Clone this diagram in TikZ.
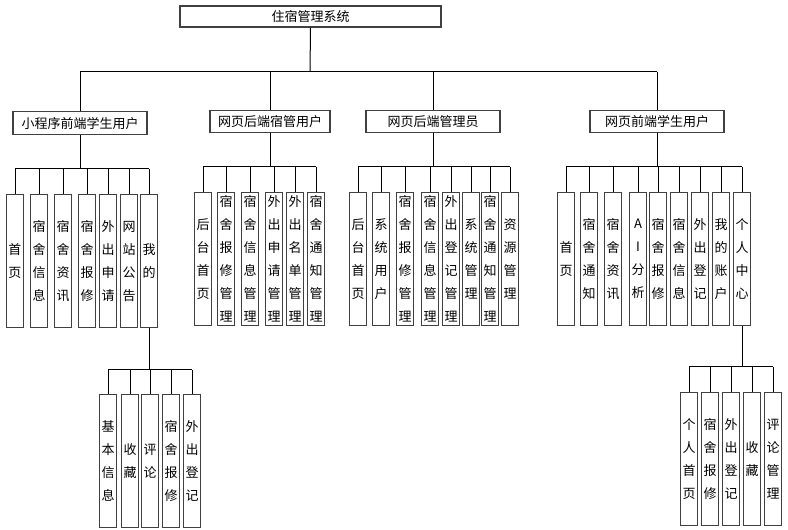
\documentclass[tikz,border=0pt]{standalone}
\usepackage{fontspec}
\setmainfont{Liberation Sans}
\newfontfamily\cjk{Noto Sans CJK SC}
\tikzset{
  headbox/.style={draw=black!75, line width=1pt, fill=white, inner sep=0pt,
    font=\cjk\fontsize{9.75}{12}\selectfont},
  leafbox/.style={draw=black!75, line width=1pt, fill=white, inner sep=0pt,
    minimum width=12.75pt, minimum height=99.75pt, text width=12pt, align=center,
    font=\cjk\fontsize{9.75}{17.25}\selectfont},
  link/.style={draw=black, line width=0.75pt}
}
\begin{document}
\begin{tikzpicture}[x=0.75pt, y=-0.75pt]
  \useasboundingbox (0,0) rectangle (788,530);
  % top level
  \node[headbox, minimum width=195.75pt, minimum height=15.75pt] (root) at (310.5,16.5) {住宿管理系统};
  \coordinate (bus0) at (310,72);
  \node[headbox, minimum width=100.5pt, minimum height=17.25pt, anchor=north] (g1) at (80,111) {小程序前端学生用户};
  \node[headbox, minimum width=90pt, minimum height=16.5pt, anchor=north] (g2) at (270,110) {网页后端宿管用户};
  \node[headbox, minimum width=100.5pt, minimum height=16.5pt, anchor=north] (g3) at (433,110) {网页后端管理员};
  \node[headbox, minimum width=100.5pt, minimum height=16.5pt, anchor=north] (g4) at (657,110) {网页前端学生用户};
  \draw[link] (root.south) -- (bus0);
  \draw[link] (g1.north |- bus0) -- (g4.north |- bus0);
  \foreach \g in {g1,g2,g3,g4}
    \draw[link] (\g.north) -- (\g.north |- bus0);

  % mini program student
  \coordinate (bus1) at (0,169);
  \foreach \x/\t [count=\i] in {15/首\\页, 39/宿\\舍\\信\\息, 63/宿\\舍\\资\\讯, 87/宿\\舍\\报\\修,
      108/外\\出\\申\\请, 129/网\\站\\公\\告, 149/我\\的} {
    \node[leafbox, anchor=north] (a\i) at (\x,194) {\t};
    \draw[link] (a\i.north) -- (a\i.north |- bus1);
  }
  \draw[link] (g1.south) -- (g1.south |- bus1);
  \draw[link] (a1.north |- bus1) -- (a7.north |- bus1);

  \coordinate (bus5) at (0,370);
  \foreach \x/\t [count=\i] in {108/基\\本\\信\\息, 130/收\\藏, 150/评\\论, 171/宿\\舍\\报\\修, 192/外\\出\\登\\记} {
    \node[leafbox, anchor=north] (e\i) at (\x,394) {\t};
    \draw[link] (e\i.north) -- (e\i.north |- bus5);
  }
  \draw[link] (a7.south) -- (a7.south |- bus5);
  \draw[link] (e1.north |- bus5) -- (e5.north |- bus5);

  % dorm manager
  \coordinate (bus2) at (0,167);
  \foreach \x/\t [count=\i] in {203/后\\台\\首\\页, 226/宿\\舍\\报\\修\\管\\理, 250/宿\\舍\\信\\息\\管\\理,
      274/外\\出\\申\\请\\管\\理, 295/外\\出\\名\\单\\管\\理, 316/宿\\舍\\通\\知\\管\\理} {
    \node[leafbox, anchor=north] (b\i) at (\x,192) {\t};
    \draw[link] (b\i.north) -- (b\i.north |- bus2);
  }
  \draw[link] (g2.south) -- (g2.south |- bus2);
  \draw[link] (b1.north |- bus2) -- (b6.north |- bus2);

  % admin
  \coordinate (bus3) at (0,167);
  \foreach \x/\t [count=\i] in {358/后\\台\\首\\页, 381/系\\统\\用\\户, 405/宿\\舍\\报\\修\\管\\理,
      430/宿\\舍\\信\\息\\管\\理, 451/外\\出\\登\\记\\管\\理, 471/系\\统\\管\\理,
      490/宿\\舍\\通\\知\\管\\理, 510/资\\源\\管\\理} {
    \node[leafbox, anchor=north] (c\i) at (\x,192) {\t};
    \draw[link] (c\i.north) -- (c\i.north |- bus3);
  }
  \draw[link] (g3.south) -- (g3.south |- bus3);
  \draw[link] (c1.north |- bus3) -- (c8.north |- bus3);

  % web student
  \coordinate (bus4) at (0,167);
  \foreach \x/\t [count=\i] in {566/首\\页, 589/宿\\舍\\通\\知, 613/宿\\舍\\资\\讯, 638/A\\I\\分\\析,
      658/宿\\舍\\报\\修, 679/宿\\舍\\信\\息, 700/外\\出\\登\\记, 721/我\\的\\账\\户, 742/个\\人\\中\\心} {
    \node[leafbox, anchor=north] (d\i) at (\x,192) {\t};
    \draw[link] (d\i.north) -- (d\i.north |- bus4);
  }
  \draw[link] (g4.south) -- (g4.south |- bus4);
  \draw[link] (d1.north |- bus4) -- (d9.north |- bus4);

  \coordinate (bus6) at (0,367);
  \foreach \x/\t [count=\i] in {689/个\\人\\首\\页, 710/宿\\舍\\报\\修, 731/外\\出\\登\\记, 752/收\\藏, 773/评\\论\\管\\理} {
    \node[leafbox, anchor=north] (f\i) at (\x,392) {\t};
    \draw[link] (f\i.north) -- (f\i.north |- bus6);
  }
  \draw[link] (d9.south) -- (d9.south |- bus6);
  \draw[link] (f1.north |- bus6) -- (f5.north |- bus6);
\end{tikzpicture}
\end{document}
